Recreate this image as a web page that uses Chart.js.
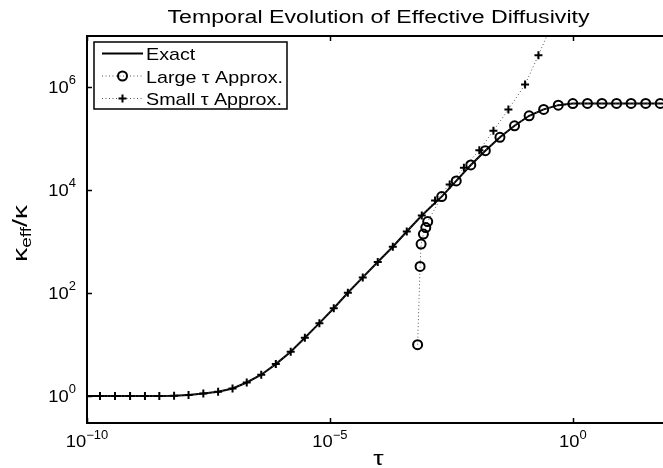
<!DOCTYPE html>
<html lang="en">
<head>
    <meta charset="UTF-8">
    <title>Temporal Evolution of Effective Diffusivity</title>
    <script src="https://cdn.jsdelivr.net/npm/chart.js"></script>
    <style>
        html, body {
            margin: 0;
            padding: 0;
            overflow: hidden;
            background: #fff;
        }
        #wrap {
            width: 663px;
            height: 468px;
            overflow: hidden;
        }
    </style>
</head>
<body>
    <div id="wrap"><canvas id="diffChart" width="680" height="468"></canvas></div>

    <script>
        // values (tau, kappa_eff / kappa)
        const exactTau = [1e-10, 1.85e-10, 3.77e-10, 7.7e-10, 1.56e-9, 3.08e-9, 6.2e-9, 1.23e-8, 2.48e-8, 5.0e-8,
            9.9e-8, 1.94e-7, 3.86e-7, 7.7e-7, 1.56e-6, 3.05e-6, 6.07e-6, 1.2e-5, 2.34e-5, 4.74e-5,
            9.65e-5, 1.97e-4, 3.82e-4, 7.78e-4, 1.46e-3, 2.0e-3, 3.98e-3, 7.94e-3, 0.0158, 0.0316,
            0.0631, 0.126, 0.251, 0.501, 1.0, 2.0, 3.98, 7.94, 15.8, 31.6, 63.1, 100];
        const exactK = [1.0, 1.0, 1.0, 1.0, 1.0, 1.01, 1.02, 1.05, 1.12, 1.22,
            1.41, 1.84, 2.6, 4.19, 7.3, 13.6, 26.2, 51, 102, 203,
            404, 800, 1585, 3236, 5700, 7550, 15240, 31100, 58900, 107200,
            179900, 281200, 374300, 453000, 487000, 490000, 490000, 490000, 490000, 490000, 490000, 490000];

        const largeTau = [6.38e-4, 7.18e-4, 7.53e-4, 8.4e-4, 9.4e-4, 1.03e-3, 2.0e-3, 3.98e-3, 7.94e-3, 0.0158,
            0.0316, 0.0631, 0.126, 0.251, 0.501, 1.0, 2.0, 3.98, 7.94, 15.8, 31.6, 63.1];
        const largeK = [10, 332, 902, 1410, 1892, 2472, 7550, 15240, 31100, 58900,
            107200, 179900, 281200, 374300, 453000, 487000, 490000, 490000, 490000, 490000, 490000, 490000];

        const smallTau = [1.85e-10, 3.77e-10, 7.7e-10, 1.56e-9, 3.08e-9, 6.2e-9, 1.23e-8, 2.48e-8, 5.0e-8, 9.9e-8,
            1.94e-7, 3.86e-7, 7.7e-7, 1.56e-6, 3.05e-6, 6.07e-6, 1.2e-5, 2.34e-5, 4.74e-5, 9.65e-5,
            1.97e-4, 3.82e-4, 7.78e-4, 1.46e-3, 2.92e-3, 5.73e-3, 0.0119, 0.0232, 0.0472, 0.104, 0.196, 0.393];
        const smallK = [1.0, 1.0, 1.0, 1.0, 1.01, 1.02, 1.05, 1.12, 1.22, 1.41,
            1.84, 2.6, 4.19, 7.3, 13.6, 26.2, 51, 102, 203, 404,
            800, 1585, 3236, 6310, 13030, 27540, 60260, 143900, 374100, 1.143e6, 4.23e6, 1.93e7];

        const seriesNames = ['Exact', 'Large \u03c4 Approx.', 'Small \u03c4 Approx.'];
        const xTicks = [1e-10, 1e-5, 1];
        const xTickExp = ['\u221210', '\u22125', '0'];
        const yTicks = [1, 1e2, 1e4, 1e6];
        const yTickExp = ['0', '2', '4', '6'];
        const titleText = 'Temporal Evolution of Effective Diffusivity';

        const FONT = "'Liberation Sans', Arial, Helvetica, sans-serif";

        function toPoints(xs, ys) {
            return xs.map((v, i) => ({ x: v, y: ys[i] }));
        }

        function runsWidth(ctx, runs) {
            let w = 0;
            runs.forEach(r => {
                ctx.font = r.size + 'px ' + FONT;
                w += ctx.measureText(r.t).width;
            });
            return w;
        }

        // text runs along one baseline (for super/subscripts), stretched along the baseline by sx
        function drawRuns(ctx, runs, x, y, align, sx, angle) {
            ctx.save();
            ctx.translate(x, y);
            if (angle) ctx.rotate(angle);
            ctx.scale(sx, 1);
            const w = runsWidth(ctx, runs);
            let cx = align === 'center' ? -w / 2 : (align === 'right' ? -w : 0);
            ctx.textAlign = 'left';
            ctx.textBaseline = 'alphabetic';
            ctx.fillStyle = '#000';
            runs.forEach(r => {
                ctx.font = r.size + 'px ' + FONT;
                ctx.fillText(r.t, cx, r.dy || 0);
                cx += ctx.measureText(r.t).width;
            });
            ctx.restore();
        }

        function fitScale(ctx, runs, target) {
            return target / runsWidth(ctx, runs);
        }

        const matlabAxes = {
            id: 'matlabAxes',
            afterDatasetsDraw(chart) {
                const { ctx, chartArea: a, scales: { x, y } } = chart;
                ctx.save();
                ctx.strokeStyle = '#000';
                ctx.lineWidth = 2;
                ctx.strokeRect(a.left, a.top, a.right - a.left, a.bottom - a.top);

                // inward tick marks on all four sides
                ctx.lineWidth = 1.5;
                ctx.beginPath();
                xTicks.forEach(v => {
                    const px = Math.round(x.getPixelForValue(v)) + 0.5;
                    ctx.moveTo(px, a.bottom);
                    ctx.lineTo(px, a.bottom - 5);
                    ctx.moveTo(px, a.top);
                    ctx.lineTo(px, a.top + 5);
                });
                yTicks.forEach(v => {
                    const py = Math.round(y.getPixelForValue(v)) + 0.5;
                    ctx.moveTo(a.left, py);
                    ctx.lineTo(a.left + 5, py);
                    ctx.moveTo(a.right, py);
                    ctx.lineTo(a.right - 5, py);
                });
                ctx.stroke();
                ctx.restore();
            },
            afterDraw(chart) {
                const { ctx, chartArea: a, scales: { x, y } } = chart;
                const midX = (a.left + a.right) / 2;

                // tick labels
                xTicks.forEach((v, i) => {
                    drawRuns(ctx, [{ t: '10', size: 17 }, { t: xTickExp[i], size: 12, dy: -7.5 }],
                        x.getPixelForValue(v), a.bottom + 23.5, 'center', 1.08);
                });
                yTicks.forEach((v, i) => {
                    drawRuns(ctx, [{ t: '10', size: 17 }, { t: yTickExp[i], size: 12, dy: -9 }],
                        a.left - 11, y.getPixelForValue(v) + 5.5, 'right', 1.08);
                });

                // title
                const titleRuns = [{ t: titleText, size: 17.5 }];
                drawRuns(ctx, titleRuns, midX, 22.7, 'center', fitScale(ctx, titleRuns, 422));

                // axis labels
                drawRuns(ctx, [{ t: '\u03c4', size: 21 }], midX, 465, 'center', 1.25);
                const yRuns = [{ t: '\u03ba', size: 21 }, { t: 'eff', size: 14, dy: 4 },
                    { t: '/', size: 21 }, { t: '\u03ba', size: 21 }];
                drawRuns(ctx, yRuns, 27, (a.top + a.bottom) / 2 + 4, 'center', fitScale(ctx, yRuns, 57), -Math.PI / 2);

                // legend box in the upper left corner
                const bx = a.left + 7, by = a.top + 6, bw = 193, bh = 67;
                ctx.save();
                ctx.fillStyle = '#fff';
                ctx.fillRect(bx, by, bw, bh);
                ctx.strokeStyle = '#000';
                ctx.lineWidth = 1.5;
                ctx.strokeRect(bx, by, bw, bh);

                const rows = [by + 11.5, by + 34, by + 56.5];
                const x0 = bx + 8, x1 = bx + 49, xm = (x0 + x1) / 2;
                const legendRuns = seriesNames.map(n => [{ t: n, size: 17 }]);
                const lsx = fitScale(ctx, legendRuns[1], 137);

                rows.forEach((ry, i) => {
                    ctx.beginPath();
                    ctx.moveTo(x0, ry);
                    ctx.lineTo(x1, ry);
                    if (i === 0) {
                        ctx.setLineDash([]);
                        ctx.lineWidth = 2;
                        ctx.strokeStyle = '#000';
                    } else {
                        ctx.setLineDash([1, 2.5]);
                        ctx.lineWidth = 1;
                        ctx.strokeStyle = '#555';
                    }
                    ctx.stroke();
                    ctx.setLineDash([]);
                    ctx.strokeStyle = '#000';
                    ctx.lineWidth = 2;
                    if (i === 1) {
                        ctx.beginPath();
                        ctx.arc(xm, ry, 4.5, 0, Math.PI * 2);
                        ctx.stroke();
                    } else if (i === 2) {
                        ctx.beginPath();
                        ctx.moveTo(xm - 4, ry);
                        ctx.lineTo(xm + 4, ry);
                        ctx.moveTo(xm, ry - 4);
                        ctx.lineTo(xm, ry + 4);
                        ctx.stroke();
                    }
                    drawRuns(ctx, legendRuns[i], x1 + 3, ry + 6.5, 'left', lsx);
                });
                ctx.restore();
            }
        };

        const ctx = document.getElementById('diffChart').getContext('2d');
        new Chart(ctx, {
            type: 'line',
            data: {
                datasets: [
                    {
                        label: seriesNames[0],
                        data: toPoints(exactTau, exactK),
                        borderColor: '#000',
                        borderWidth: 2,
                        pointRadius: 0,
                        tension: 0,
                        order: 2
                    },
                    {
                        label: seriesNames[1],
                        data: toPoints(largeTau, largeK),
                        borderColor: '#555',
                        borderWidth: 1,
                        borderDash: [1, 2.5],
                        pointStyle: 'circle',
                        pointRadius: 4.5,
                        pointBorderWidth: 2,
                        pointBorderColor: '#000',
                        pointBackgroundColor: 'rgba(0,0,0,0)',
                        tension: 0,
                        order: 1
                    },
                    {
                        label: seriesNames[2],
                        data: toPoints(smallTau, smallK),
                        borderColor: '#555',
                        borderWidth: 1,
                        borderDash: [1, 2.5],
                        pointStyle: 'cross',
                        pointRadius: 4,
                        pointBorderWidth: 2,
                        pointBorderColor: '#000',
                        tension: 0,
                        order: 0
                    }
                ]
            },
            options: {
                responsive: false,
                animation: false,
                events: [],
                layout: { padding: { left: 87, top: 36, right: 10, bottom: 45 } },
                plugins: {
                    legend: { display: false },
                    title: { display: false },
                    tooltip: { enabled: false }
                },
                scales: {
                    x: { type: 'logarithmic', display: false, min: 1e-10, max: 100 },
                    y: { type: 'logarithmic', display: false, min: 0.309, max: 1e7 }
                }
            },
            plugins: [matlabAxes]
        });
    </script>
</body>
</html>
